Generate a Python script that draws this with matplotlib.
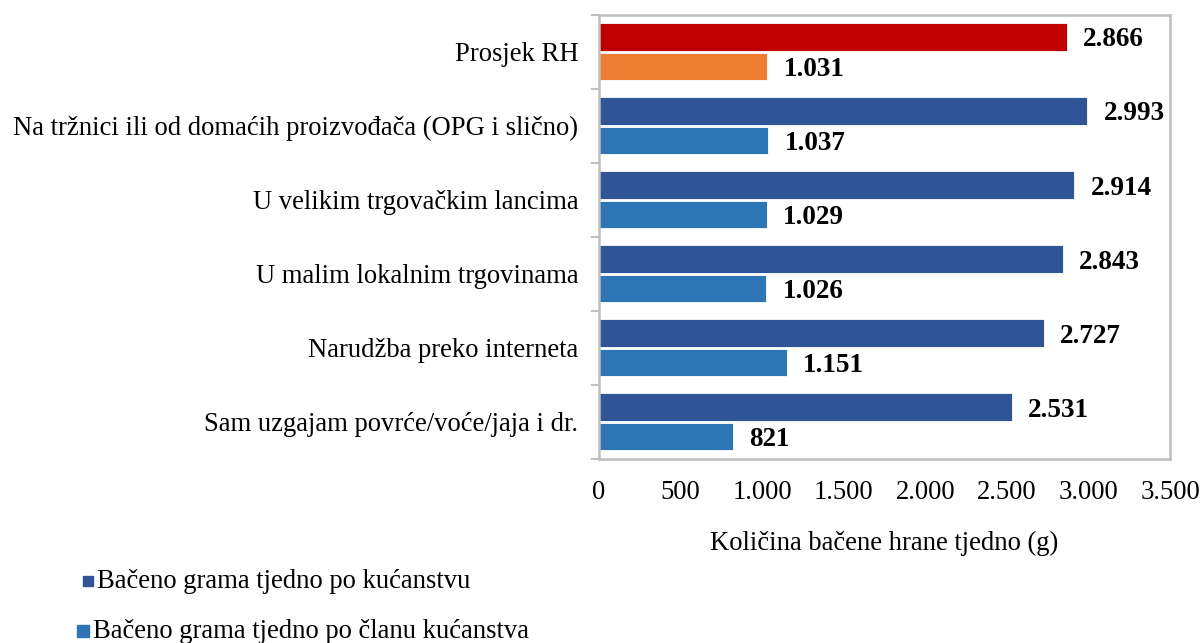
import matplotlib
matplotlib.use("Agg")
import matplotlib.pyplot as plt
import numpy as np
from matplotlib.patches import Rectangle

plt.rcParams['font.family'] = ['Liberation Serif', 'DejaVu Serif']

categories = ["Prosjek RH",
              "Na tržnici ili od domaćih proizvođača (OPG i slično)",
              "U velikim trgovačkim lancima",
              "U malim lokalnim trgovinama",
              "Narudžba preko interneta",
              "Sam uzgajam povrće/voće/jaja i dr."]
per_household = [2866, 2993, 2914, 2843, 2727, 2531]
per_member = [1031, 1037, 1029, 1026, 1151, 821]
series_names = ["Bačeno grama tjedno po kućanstvu",
                "Bačeno grama tjedno po članu kućanstva"]
xticks = [0, 500, 1000, 1500, 2000, 2500, 3000, 3500]
xlabel = "Količina bačene hrane tjedno (g)"

def fmt(v):
    return f"{v:,}".replace(",", ".")

W, H = 1203, 643
FS = 19.2
fig = plt.figure(figsize=(W / 100, H / 100), dpi=100)
ax = fig.add_axes([599 / W, 1 - 459 / H, (1170 - 599) / W, (459 - 14.7) / H])

y = np.arange(len(categories))
bh = 0.37
off = 0.2
c_top = ['#C00000'] + ['#2F5597'] * (len(categories) - 1)
c_bot = ['#ED7D31'] + ['#2E75B6'] * (len(categories) - 1)

ax.barh(y - off, per_household, height=bh, color=c_top, edgecolor='white', linewidth=0.6)
ax.barh(y + off, per_member, height=bh, color=c_bot, edgecolor='white', linewidth=0.6)

for yi, v in zip(y, per_household):
    ax.text(v + 100, yi - off, fmt(v), va='center_baseline', ha='left', fontsize=19.5, fontweight='bold')
for yi, v in zip(y, per_member):
    ax.text(v + 100, yi + off, fmt(v), va='center_baseline', ha='left', fontsize=19.5, fontweight='bold')

ax.set_xlim(0, 3500)
ax.set_ylim(len(categories) - 0.5, -0.5)
ax.set_xticks(xticks)
ax.set_xticklabels([fmt(t) for t in xticks], fontsize=FS)
ax.tick_params(axis='x', length=0, pad=15)
ax.set_yticks(y)
ax.set_yticklabels(categories, fontsize=FS)
ax.tick_params(axis='y', which='major', length=0, pad=15)
ax.set_yticks(np.arange(len(categories) + 1) - 0.5, minor=True)
ax.tick_params(axis='y', which='minor', length=6, width=1.5, color='#BFBFBF')
for s in ax.spines.values():
    s.set_color('#BFBFBF')
    s.set_linewidth(1.8)
ax.set_xlabel(xlabel, fontsize=FS, labelpad=19)

# legend
leg_items = [(series_names[0], '#2F5597', 88, 581, 10),
             (series_names[1], '#2E75B6', 83, 631, 12)]
for name, col, lx, ly, sz in leg_items:
    fig.patches.append(Rectangle((lx / W - sz / 2 / W, 1 - ly / H - sz / 2 / H), sz / W, sz / H,
                                 transform=fig.transFigure, color=col))
    fig.text(lx / W + (sz / 2 + 4) / W, 1 - ly / H, name, fontsize=FS, va='center', ha='left')

fig.savefig("out.png", dpi=100)
